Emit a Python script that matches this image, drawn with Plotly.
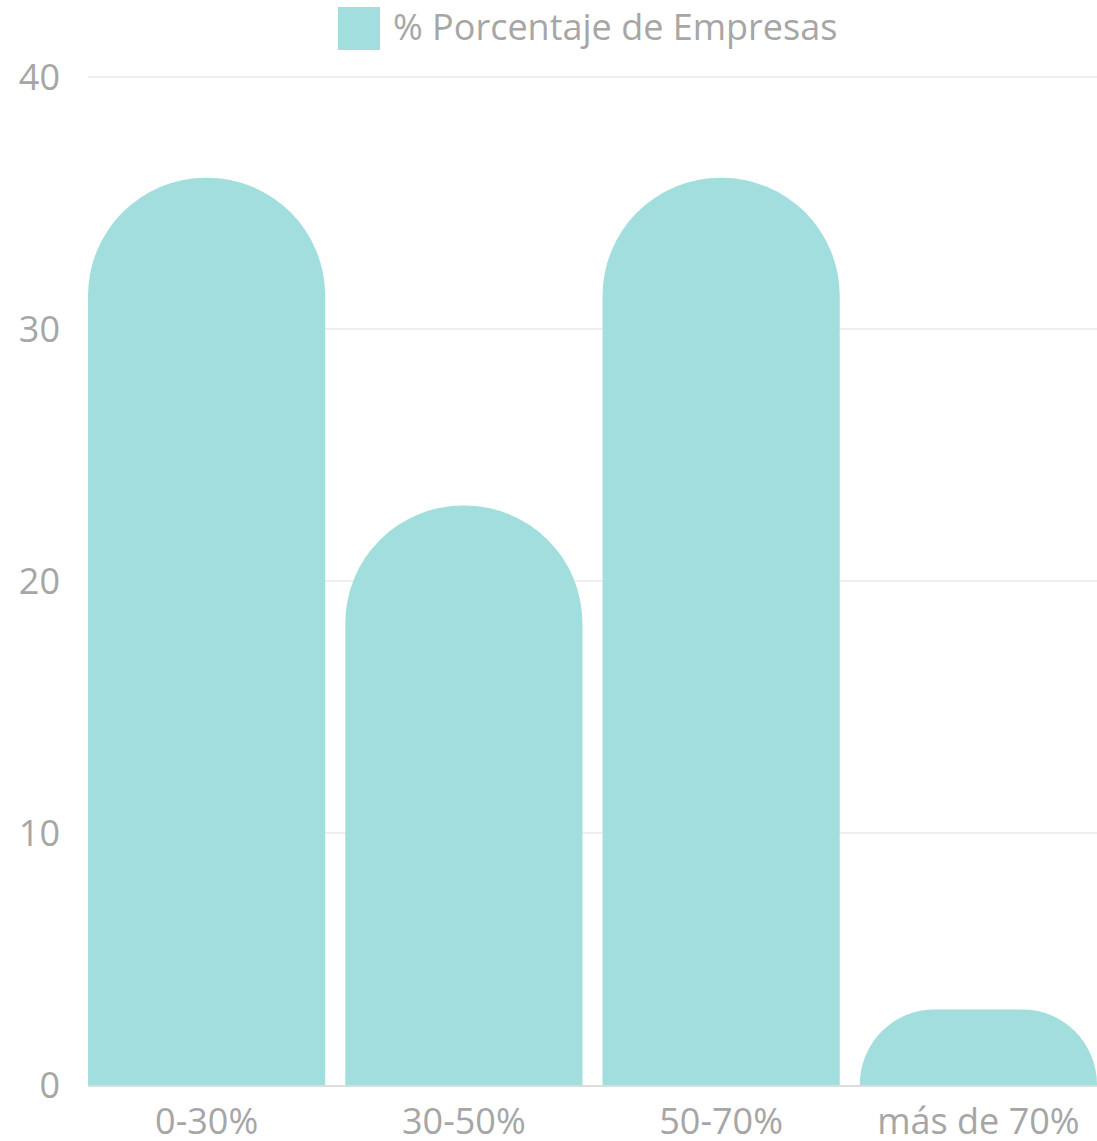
import plotly.graph_objects as go

categories = ["0-30%", "30-50%", "50-70%", "más de 70%"]
values = [36, 23, 36, 3]
series_name = "% Porcentaje de Empresas"
y_ticks = [0, 10, 20, 30, 40]

BAR_COLOR = "#a2dede"
TEXT_COLOR = "#a6a6a6"
FONT = "Open Sans"
FS = 36
bargap = 0.078

fig = go.Figure()
fig.add_trace(go.Bar(
    x=categories, y=values, name=series_name,
    marker=dict(color=BAR_COLOR, cornerradius="50%", line=dict(width=0)),
    showlegend=False,
))

fig.update_layout(
    width=1097, height=1141,
    margin=dict(l=88, r=0, t=75, b=56),
    paper_bgcolor="white", plot_bgcolor="white",
    bargap=bargap,
    font=dict(family=FONT, color=TEXT_COLOR, size=FS),
    xaxis=dict(
        range=[-0.5 + bargap / 2, 3.5 - bargap / 2],
        showgrid=False, showline=True, linecolor="#dcdcdc", linewidth=2,
        ticks="", ticklabelstandoff=4, automargin=False,
        tickfont=dict(family=FONT, color=TEXT_COLOR, size=FS),
    ),
    yaxis=dict(
        range=[0, 40.08], tickvals=y_ticks,
        showgrid=True, gridcolor="#eeeeee", gridwidth=1.5,
        zeroline=False, showline=False, ticks="", automargin=False,
        ticklabelstandoff=27,
        tickfont=dict(family=FONT, color=TEXT_COLOR, size=FS),
    ),
)

# custom legend (top centre)
fig.add_shape(type="rect", xref="paper", yref="paper",
              x0=(338 - 88) / 1009, x1=(380 - 88) / 1009,
              y0=1 + (75 - 50) / 1010, y1=1 + (75 - 7) / 1010,
              fillcolor=BAR_COLOR, line=dict(width=0))
fig.add_annotation(xref="paper", yref="paper",
                   x=(391 - 88) / 1009, y=1 + (75 - 27) / 1010,
                   xanchor="left", yanchor="middle", showarrow=False,
                   text=series_name,
                   font=dict(family=FONT, color=TEXT_COLOR, size=FS))

fig.write_html("out.html", config={"displayModeBar": False},
               post_script="document.body.style.margin='0';document.body.style.overflow='hidden';")
